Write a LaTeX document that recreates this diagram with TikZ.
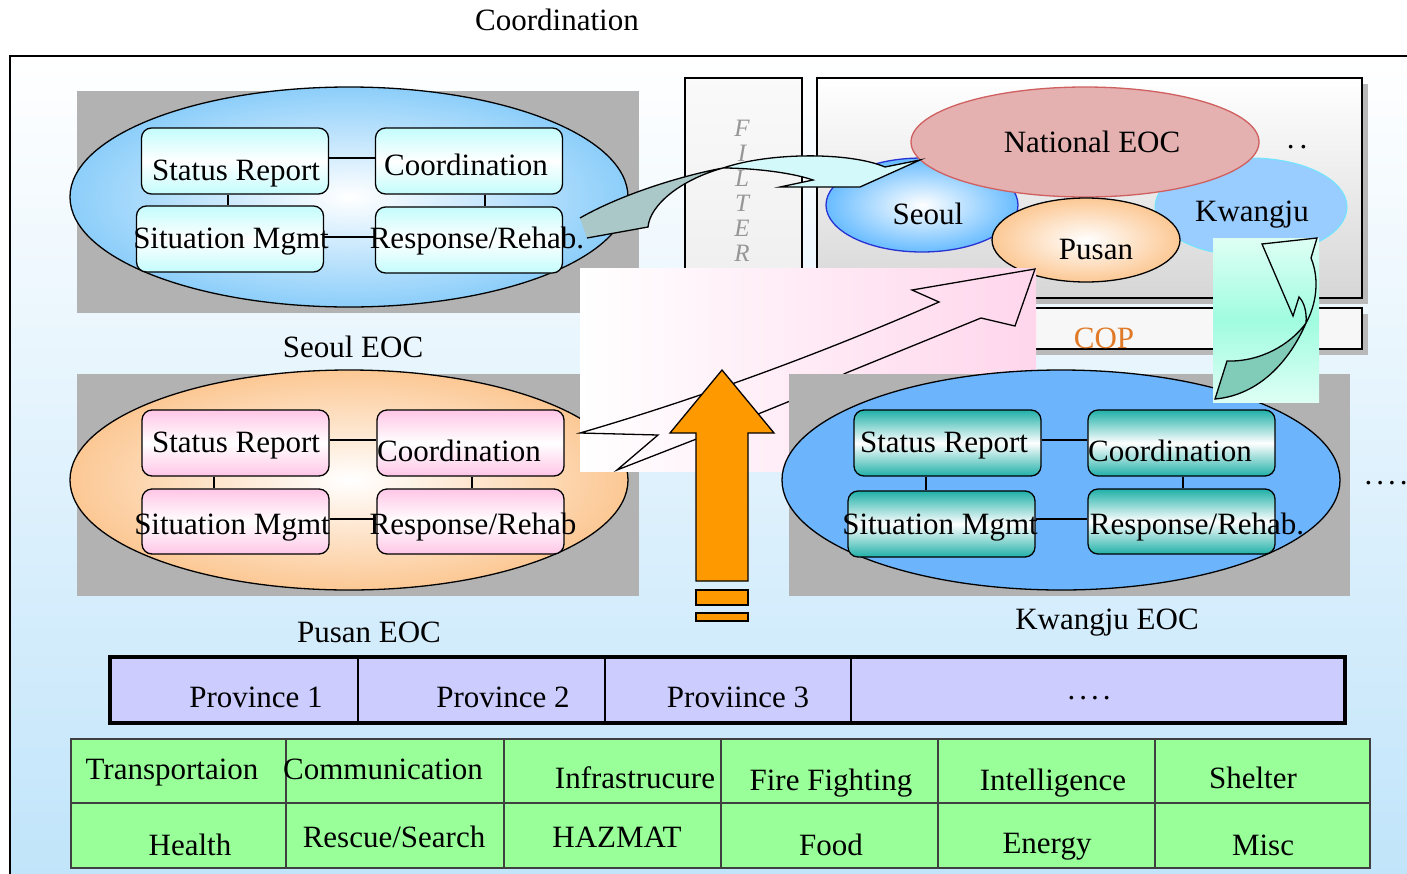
\documentclass[tikz,border=0pt]{standalone}
\usepackage{fontspec}
\setmainfont{Liberation Serif}
\definecolor{bgbot}{RGB}{192,228,250}
\definecolor{grayrect}{RGB}{178,178,178}
\definecolor{seoulblue}{RGB}{140,206,250}
\definecolor{pusanor}{RGB}{252,200,148}
\definecolor{kjblue}{RGB}{108,180,252}
\definecolor{cyanbox}{RGB}{196,252,252}
\definecolor{pinkbox}{RGB}{255,198,230}
\definecolor{tealbox}{RGB}{32,176,168}
\definecolor{natfill}{RGB}{228,176,176}
\definecolor{natdraw}{RGB}{208,96,96}
\definecolor{smallseoul}{RGB}{104,188,255}
\definecolor{seouldraw}{RGB}{40,50,210}
\definecolor{kjsmall}{RGB}{153,204,255}
\definecolor{kjsmalldraw}{RGB}{110,230,255}
\definecolor{pinkbg}{RGB}{255,214,236}
\definecolor{arrdark}{RGB}{170,200,200}
\definecolor{arrlight}{RGB}{212,249,251}
\definecolor{kjarrdark}{RGB}{128,204,184}
\definecolor{aqua}{RGB}{160,252,224}
\definecolor{aqualight}{RGB}{222,255,244}
\definecolor{orangearr}{RGB}{255,153,0}
\definecolor{provfill}{RGB}{204,204,255}
\definecolor{greenfill}{RGB}{153,255,153}
\definecolor{copor}{RGB}{224,122,40}
\definecolor{filtertxt}{RGB}{150,150,150}
\begin{document}
\begin{tikzpicture}[x=1pt,y=-1pt,
  lbl/.style={inner sep=0pt, anchor=base, font=\fontsize{31}{33}\selectfont},
  filt/.style={inner sep=0pt, anchor=north, align=center, text=filtertxt, font=\fontsize{25}{25}\selectfont\itshape},
  ebox/.style={draw=black, line width=1.3pt, rounded corners=10pt, minimum width=187pt, minimum height=66pt, inner sep=0pt},
  cbox/.style={ebox, top color=cyanbox, bottom color=cyanbox, middle color=white},
  pbox/.style={ebox, top color=pinkbox, bottom color=pinkbox, middle color=white},
  tbox/.style={ebox, top color=tealbox, bottom color=tealbox, middle color=white},
  link/.style={line width=1.3pt},
  outl/.style={line width=1.3pt, line join=miter},
  cell/.style={fill=greenfill, draw=black!75, line width=1.8pt},
]
\useasboundingbox (0,0) rectangle (1407,873);
\clip (0,0) rectangle (1407,873);
\fill[white] (0,0) rectangle (1407,873);
\shade[top color=white, bottom color=bgbot] (10,56) rectangle (1420,885);
\draw[line width=1.3pt] (1420,56) -- (10,56) -- (10,885);
\node[lbl] (title) at (557,30) {Coordination};

% ---------- Seoul EOC ----------
\fill[grayrect] (77,91) rectangle (639,313);
\shadedraw[inner color=white, outer color=seoulblue, line width=1.3pt] (349,197) ellipse [x radius=279, y radius=110];
\node[cbox] (s1) at (235,161) {};
\node[cbox] (s2) at (469,161) {};
\node[cbox] (s3) at (230,239) {};
\node[cbox] (s4) at (469,240) {};
\draw[link] (s1.east |- 0,158) -- (s2.west |- 0,158);
\draw[link] (s1.south -| 228,0) -- (s3.north -| 228,0);
\draw[link] (s2.south -| 485,0) -- (s4.north -| 485,0);
\draw[link] (s3.east |- 0,237) -- (s4.west |- 0,237);
\node[lbl] (s1t) at (236,180) {Status Report};
\node[lbl] (s2t) at (466,175) {Coordination};
\node[lbl] (s3t) at (231,248) {Situation Mgmt};
\node[lbl] (s4t) at (477,248) {Response/Rehab.};
\node[lbl] (seoullbl) at (353,357) {Seoul EOC};

% ---------- Pusan EOC ----------
\fill[grayrect] (77,374) rectangle (639,596);
\shadedraw[inner color=white, outer color=pusanor, line width=1.3pt] (349,480) ellipse [x radius=279, y radius=110];
\node[pbox] (p1) at (235.5,443) {};
\node[pbox] (p2) at (470.5,443) {};
\node[pbox, minimum height=65pt] (p3) at (235.5,521.5) {};
\node[pbox, minimum height=65pt] (p4) at (470.5,521.5) {};
\draw[link] (p1.east |- 0,440) -- (p2.west |- 0,440);
\draw[link] (p1.south -| 214,0) -- (p3.north -| 214,0);
\draw[link] (p2.south -| 472,0) -- (p4.north -| 472,0);
\draw[link] (p3.east |- 0,519) -- (p4.west |- 0,519);
\node[lbl] (p1t) at (236,452) {Status Report};
\node[lbl] (p2t) at (459,461) {Coordination};
\node[lbl] (p3t) at (232,534) {Situation Mgmt};
\node[lbl] (p4t) at (473,534) {Response/Rehab};
\node[lbl] (pusanlbl) at (369,642) {Pusan EOC};

% ---------- FILTER ----------
\shadedraw[top color=white!96!gray, bottom color=white!86!gray, line width=1.5pt] (685,78) rectangle (802,320);
\node[filt] (filtertext) at (742,120) {F\\I\\L\\T\\E\\R\\I};

% ---------- COP panel ----------
\fill[gray!55] (823,84) rectangle (1368,304);
\shadedraw[top color=white, bottom color=white!84!black, line width=1.3pt] (817,78) rectangle (1362,298);
\fill[gray!55] (1000,314) rectangle (1368,355);
\draw[line width=2.5pt, fill=white!97!black] (1000,308) rectangle (1362,349);
\node[lbl, text=copor] (cop) at (1104,348) {COP};

\filldraw[fill=kjsmall, draw=kjsmalldraw, line width=1pt] (1251,207) ellipse [x radius=96, y radius=49];
\shadedraw[inner color=white, outer color=smallseoul, draw=seouldraw, line width=1.3pt] (922,205) ellipse [x radius=96, y radius=47];
\filldraw[fill=natfill, draw=natdraw, line width=1.3pt] (1085,142) ellipse [x radius=174, y radius=55];
\shadedraw[inner color=white, outer color=pusanor, line width=1.3pt] (1086,240) ellipse [x radius=94, y radius=42];
\node[lbl] (natt) at (1092,152) {National EOC};
\node[lbl] (seoult) at (928,224) {Seoul};
\node[lbl] (pusant) at (1096,259) {Pusan};
\node[lbl] (kwangjut) at (1252,221) {Kwangju};
\node[lbl] (ndots) at (1297,148) {.\kern5pt.};

% ---------- Seoul curved arrow ----------
\fill[arrdark] (587,238) -- (648,227) .. controls (650,205) and (680,180) .. (723,168) .. controls (680,176) and (620,195) .. (580,218) -- cycle;
\fill[arrlight] (723,168) .. controls (750,168) and (790,172) .. (813,180) -- (780,187) -- (860,187) -- (920,160) -- (885,167) .. controls (850,152) and (770,152) .. (723,168) -- cycle;
\draw[outl] (587,238) -- (648,227) .. controls (650,205) and (680,180) .. (723,168) .. controls (750,168) and (790,172) .. (813,180) -- (780,187) -- (860,187) -- (920,160) -- (885,167) .. controls (850,152) and (770,152) .. (723,168) .. controls (680,176) and (620,195) .. (580,218);

% ---------- pink field and lightning arrow ----------
\shade[left color=white, right color=pinkbg] (580,268) rectangle (1036,471);
\draw[outl] (580,433) .. controls (700,398) and (820,354) .. (939,302) -- (912,290) -- (1035,269) -- (1015,326) -- (981,318) -- (846,373) -- (800,397) -- (699,438) -- (617,470) -- (658,435) -- cycle;

% ---------- orange arrow ----------
\filldraw[fill=orangearr, line width=1.3pt] (722,370) -- (774,433) -- (748,433) -- (748,581) -- (696,581) -- (696,433) -- (670,433) -- cycle;
\filldraw[fill=orangearr, line width=1.3pt] (696,590) rectangle (748,605);
\filldraw[fill=orangearr, line width=1.3pt] (696,613) rectangle (748,621);

% ---------- Kwangju EOC ----------
\fill[grayrect] (789,374) rectangle (1350,596);
\filldraw[fill=kjblue, line width=1.3pt] (1061,480) ellipse [x radius=279, y radius=110];
\node[tbox] (k1) at (947.5,443) {};
\node[tbox] (k2) at (1181.5,443) {};
\node[tbox] (k3) at (941.5,524) {};
\node[tbox, minimum height=65pt] (k4) at (1181.5,521.5) {};
\draw[link] (k1.east |- 0,440) -- (k2.west |- 0,440);
\draw[link] (k1.south -| 926,0) -- (k3.north -| 926,0);
\draw[link] (k2.south -| 1183,0) -- (k4.north -| 1183,0);
\draw[link] (k3.east |- 0,519) -- (k4.west |- 0,519);
\node[lbl] (k1t) at (944,452) {Status Report};
\node[lbl] (k2t) at (1170,461) {Coordination};
\node[lbl] (k3t) at (940,534) {Situation Mgmt};
\node[lbl] (k4t) at (1197,534) {Response/Rehab.};
\node[lbl] (kwlbl) at (1107,629) {Kwangju EOC};
\node[lbl] (rdots) at (1386,484) {.\kern4pt.\kern4pt.\kern4pt.};

% ---------- Kwangju curved arrow ----------
\shade[top color=aqualight, bottom color=aqualight, middle color=aqua] (1213,238) rectangle (1319,402);
\fill[kjarrdark] (1306,323) .. controls (1290,360) and (1260,395) .. (1215,399) -- (1227,361) .. controls (1260,362) and (1290,345) .. (1306,323) -- cycle;
\draw[outl] (1262,244) -- (1317,238) -- (1311,258) .. controls (1320,280) and (1316,305) .. (1306,323) .. controls (1290,360) and (1260,395) .. (1215,399) -- (1227,361) .. controls (1260,362) and (1290,345) .. (1306,323) .. controls (1307,312) and (1304,302) .. (1299,297) -- (1293,316) -- cycle;

% ---------- Provinces ----------
\fill[provfill] (110,657) rectangle (1345,723);
\draw[line width=1.5pt] (358,657) -- (358,723);
\draw[line width=1.5pt] (605,657) -- (605,723);
\draw[line width=1.5pt] (851,657) -- (851,723);
\draw[line width=4pt] (110,657) rectangle (1345,723);
\node[lbl] (pr1) at (256,707) {Province 1};
\node[lbl] (pr2) at (503,707) {Province 2};
\node[lbl] (pr3) at (738,707) {Proviince 3};
\node[lbl] (pr4) at (1089,699) {.\kern4pt.\kern4pt.\kern4pt.};

% ---------- functions grid ----------
\foreach \xa/\xb in {71/286, 286/504, 504/721, 721/938, 938/1155, 1155/1370}{
  \filldraw[cell] (\xa,739) rectangle (\xb,803);
  \filldraw[cell] (\xa,803) rectangle (\xb,868);
}
\node[lbl] (g1) at (172,779) {Transportaion};
\node[lbl] (g2) at (383,779) {Communication};
\node[lbl] (g3) at (635,788) {Infrastrucure};
\node[lbl] (g4) at (831,790) {Fire Fighting};
\node[lbl] (g5) at (1053,790) {Intelligence};
\node[lbl] (g6) at (1253,788) {Shelter};
\node[lbl] (g7) at (190,855) {Health};
\node[lbl] (g8) at (394,847) {Rescue/Search};
\node[lbl] (g9) at (617,847) {HAZMAT};
\node[lbl] (g10) at (831,855) {Food};
\node[lbl] (g11) at (1047,853) {Energy};
\node[lbl] (g12) at (1263,855) {Misc};
\end{tikzpicture}
\end{document}
